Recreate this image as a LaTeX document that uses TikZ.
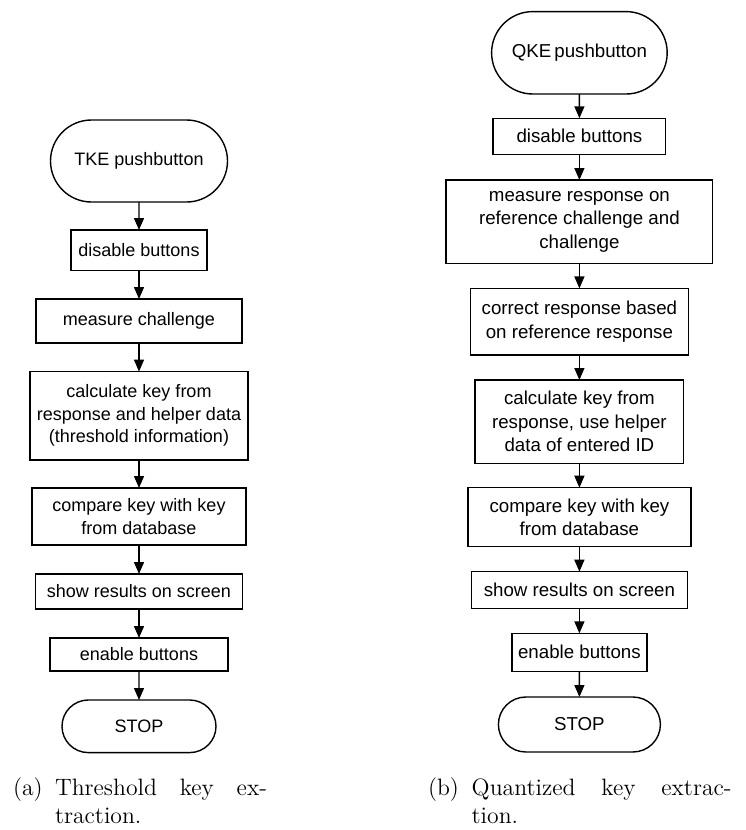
\documentclass[tikz,border=0pt]{standalone}
\usepackage{fontspec}
\newfontfamily\flowfont{Liberation Sans}
\usetikzlibrary{shapes.misc,arrows.meta}

\begin{document}
\begin{tikzpicture}[x=0.5pt,y=-0.5pt,
  every node/.style={inner sep=0pt, outer sep=0pt},
  lbox/.style={draw, line width=0.7pt, align=center,
    font=\flowfont\fontsize{9}{11.25}\selectfont},
  rbox/.style={lbox, font=\flowfont\fontsize{9.35}{11.8}\selectfont},
  term/.style={rounded rectangle},
  flow/.style={-{Triangle[length=6pt,width=5pt]}, line width=0.7pt},
  subcap/.style={font=\fontsize{11.85}{14}\selectfont, anchor=base west}]

\fill[white] (0,0) rectangle (745,830);
\useasboundingbox (0,0) rectangle (745,830);

% (a) threshold key extraction
\node[lbox, term, minimum width=88.5pt, minimum height=41pt] (a0) at (139,161) {TKE pushbutton};
\node[lbox, minimum width=68pt, minimum height=20.3pt] (a1) at (139,250.3) {disable buttons};
\node[lbox, minimum width=103pt, minimum height=22pt] (a2) at (139,321) {measure challenge};
\node[lbox, minimum width=109pt, minimum height=44.2pt] (a3) at (139,415.8)
  {calculate key from\\response and helper data\\(threshold information)};
\node[lbox, minimum width=107pt, minimum height=28.5pt] (a4) at (139,516.5)
  {compare key with key\\from database};
\node[lbox, minimum width=103.5pt, minimum height=17.5pt] (a5) at (139,591.5) {show results on screen};
\node[lbox, minimum width=89pt, minimum height=16.5pt] (a6) at (139,654.5) {enable buttons};
\node[lbox, term, minimum width=77pt, minimum height=26.3pt] (a7) at (139,726.3) {STOP};

\foreach \i/\j in {a0/a1,a1/a2,a2/a3,a3/a4,a4/a5,a5/a6,a6/a7}
  \draw[flow] (\i) -- (\j);

% (b) quantized key extraction
\node[rbox, term, minimum width=87.8pt, minimum height=41.2pt] (b0) at (579.4,52.8) {QKE\hspace{0.16em}pushbutton};
\node[rbox, minimum width=86.3pt, minimum height=18pt] (b1) at (579.4,136.3) {disable buttons};
\node[rbox, minimum width=133.3pt, minimum height=41.7pt] (b2) at (579.4,221.7)
  {measure response on\\reference challenge and\\challenge};
\node[rbox, minimum width=109.2pt, minimum height=33.3pt] (b3) at (579.4,321.7)
  {correct response based\\on reference response};
\node[rbox, minimum width=104.3pt, minimum height=41.7pt] (b4) at (579.4,421.7)
  {calculate key from\\response, use helper\\data of entered ID};
\node[rbox, minimum width=111.5pt, minimum height=29.5pt] (b5) at (579.4,517.2)
  {compare key with key\\from database};
\node[rbox, minimum width=108.2pt, minimum height=18.5pt] (b6) at (579.4,590.2) {show results on screen};
\node[rbox, minimum width=67.5pt, minimum height=19pt] (b7) at (579.4,652.3) {enable buttons};
\node[rbox, term, minimum width=81pt, minimum height=27.5pt] (b8) at (579.4,724.5) {STOP};

\foreach \i/\j in {b0/b1,b1/b2,b2/b3,b3/b4,b4/b5,b5/b6,b6/b7,b7/b8}
  \draw[flow] (\i) -- (\j);

% sub-captions
\node[subcap] (capa) at (13,795.5) {(a)};
\node[subcap] (capa1) at (55,795.5) {\makebox[106pt][s]{Threshold key ex-}};
\node[subcap] (capa2) at (55,823.5) {traction.};

\node[subcap] (capb) at (428,795.5) {(b)};
\node[subcap] (capb1) at (471.7,795.5) {\makebox[130pt][s]{Quantized key extrac-}};
\node[subcap] (capb2) at (471.7,823.5) {tion.};
\end{tikzpicture}
\end{document}
